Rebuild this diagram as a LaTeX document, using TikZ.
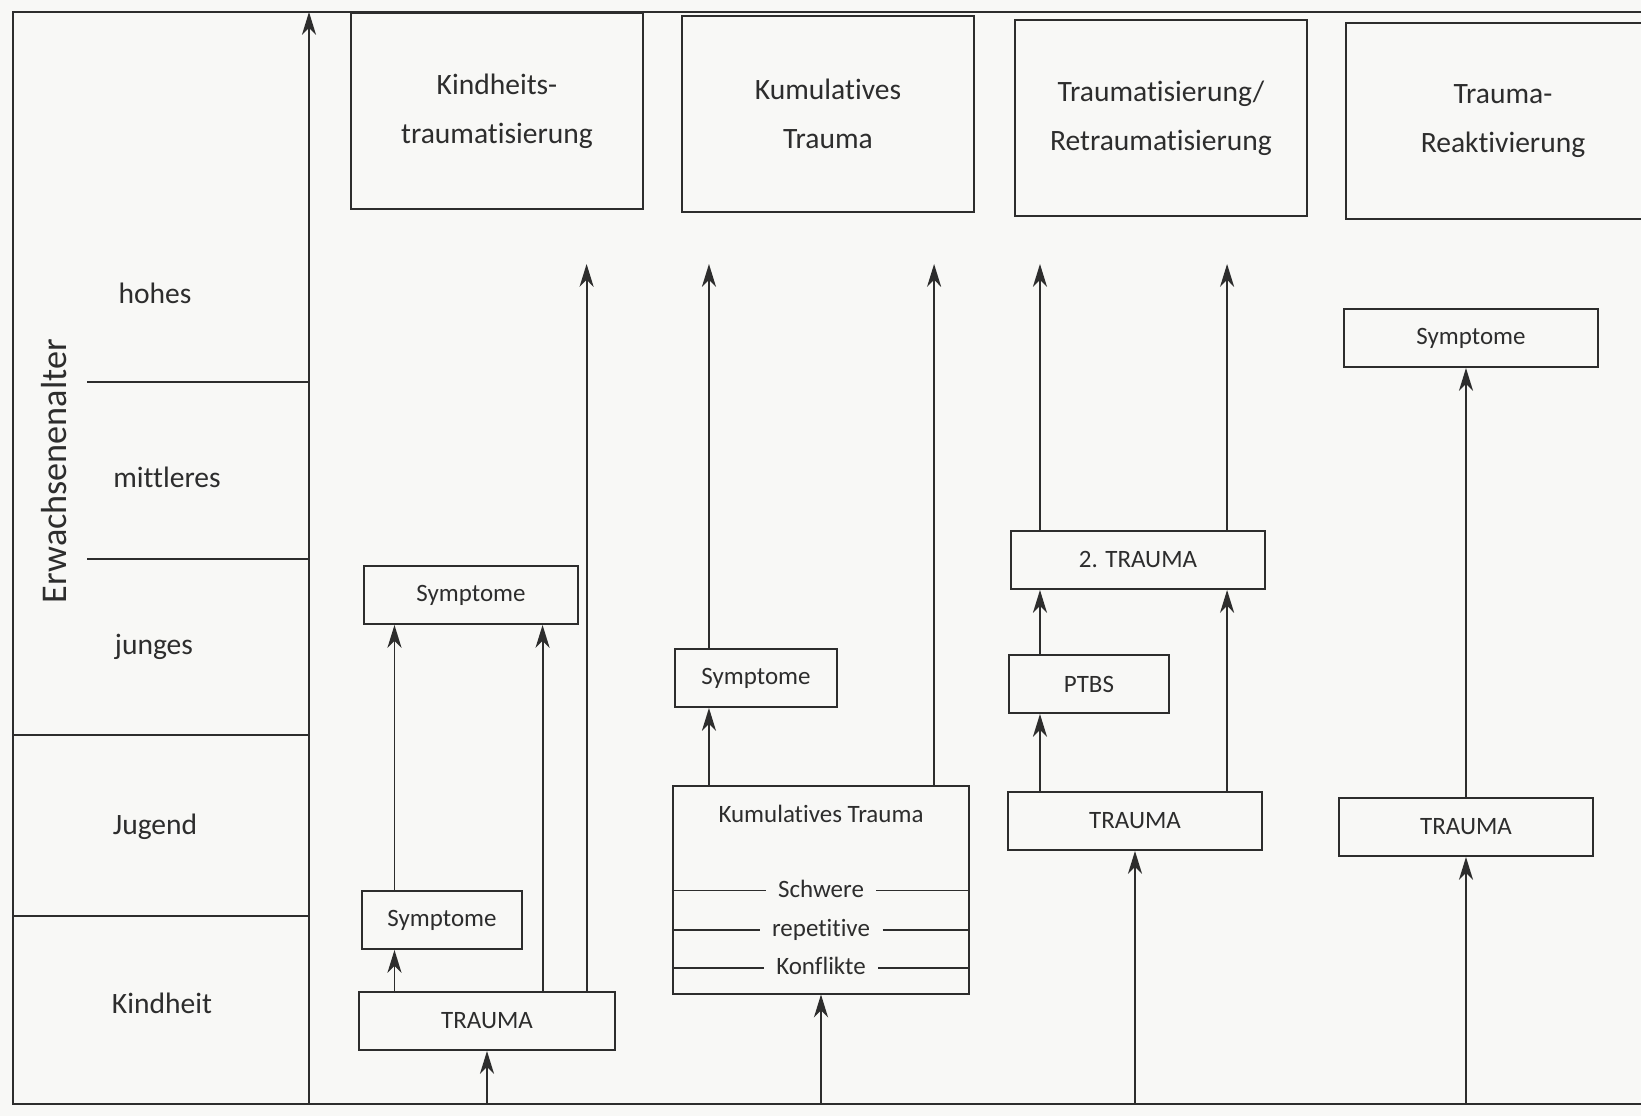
\documentclass[tikz,border=0pt]{standalone}
\usepackage{fontspec}
\setmainfont{Carlito}[Ligatures={NoCommon}]
\usetikzlibrary{arrows.meta, positioning, calc}
\definecolor{inkgray}{RGB}{45,45,45}
\definecolor{papergray}{RGB}{248,248,246}

\begin{document}
\begin{tikzpicture}[
    x=0.01cm, y=-0.01cm,
    line width=0.55pt, color=inkgray,
    head/.style={draw, minimum width=2.92cm, minimum height=1.95cm, align=center, font=\fontsize{8.4}{14}\selectfont},
    box/.style={draw, minimum width=2.54cm, minimum height=0.58cm, inner sep=0pt, font=\fontsize{7.1}{9}\selectfont},
    age/.style={font=\fontsize{8.4}{10}\selectfont},
    rowtext/.style={font=\fontsize{7.1}{9}\selectfont, inner xsep=3.3pt, inner ysep=0pt, text height=4pt, text depth=0pt},
    arrow/.style={-{Stealth[length=6.5pt, width=4pt, inset=2pt]}}
]
    \useasboundingbox (0,0) rectangle (1641,1116);
    \fill[papergray] (0,0) rectangle (1641,1116);

    % Frame and time axis
    \coordinate (base) at (0,1104);
    \coordinate (tips) at (0,264);
    \coordinate (axisbase) at (309,1104);
    \coordinate (axistop) at (309,12);
    \draw (1660,12) -- (13,12) -- (13,1104) -- (1660,1104);
    \draw[arrow] (axisbase) -- (axistop);

    % Age bands
    \draw (87,382) -- (309,382);
    \draw (87,559) -- (309,559);
    \draw (13,735) -- (309,735);
    \draw (13,916) -- (309,916);
    \node[age] (hohes) at (155,293) {hohes};
    \node[age] (mittleres) at (167,477) {mittleres};
    \node[age] (junges) at (154,647) {junges};
    \node[age] (jugend) at (155,827) {Jugend};
    \node[age] (kindheit) at (162,1003) {Kindheit};
    \node[font=\fontsize{10.3}{12}\selectfont, rotate=90] (erwachsen) at (54,471) {Erwachsenenalter};

    % Column headers
    \node[head] (kth) at (497,111) {Kindheits-\\traumatisierung};
    \node[head] (kum) at (828,114) {Kumulatives\\Trauma};
    \node[head] (retr) at (1161,118) {Traumatisierung/\\Retraumatisierung};
    \node[head, minimum width=3.14cm] (reakt) at (1503,121) {Trauma-\\Reaktivierung};

    % Kindheitstraumatisierung
    \node[box, minimum width=2.13cm] (sympA) at (471,595) {Symptome};
    \node[box, minimum width=1.60cm] (sympB) at (442,920) {Symptome};
    \node[box, minimum width=2.55cm] (traumaA) at (487,1021) {TRAUMA};
    \coordinate (k1) at ([xshift=0.36cm]traumaA.north west);
    \coordinate (k2) at ([xshift=1.84cm]traumaA.north west);
    \coordinate (k3) at ([xshift=2.28cm]traumaA.north west);
    \draw[arrow] (traumaA.south |- base) -- (traumaA.south);
    \draw[arrow] (k1) -- (k1 |- sympB.south);
    \draw[arrow] (k1 |- sympB.north) -- (k1 |- sympA.south);
    \draw[arrow] (k2) -- (k2 |- sympA.south);
    \draw[arrow] (k3) -- (k3 |- tips);

    % Kumulatives Trauma
    \node[box, minimum width=1.61cm] (sympC) at (756,678) {Symptome};
    \node[draw, minimum width=2.96cm, minimum height=2.07cm] (kumbox) at (821,890) {};
    \node[rowtext] (kumtitle) at ([yshift=-0.30cm]kumbox.north) {Kumulatives Trauma};
    \node[rowtext] (schwere) at ([yshift=-1.05cm]kumbox.north) {Schwere};
    \node[rowtext] (repet) at ([yshift=-1.44cm]kumbox.north) {repetitive};
    \node[rowtext] (konfl) at ([yshift=-1.82cm]kumbox.north) {Konflikte};
    \foreach \r in {schwere, repet, konfl} {
        \draw (kumbox.west |- \r) -- (\r.west);
        \draw (\r.east) -- (kumbox.east |- \r);
    }
    \coordinate (c1) at ([xshift=0.37cm]kumbox.north west);
    \coordinate (c2) at ([xshift=2.62cm]kumbox.north west);
    \draw[arrow] (kumbox.south |- base) -- (kumbox.south);
    \draw[arrow] (c1) -- (c1 |- sympC.south);
    \draw[arrow] (c1 |- sympC.north) -- (c1 |- tips);
    \draw[arrow] (c2) -- (c2 |- tips);

    % Traumatisierung / Retraumatisierung
    \node[box] (trauma2) at (1138,560) {2. TRAUMA};
    \node[box, minimum width=1.60cm] (ptbs) at (1089,684) {PTBS};
    \node[box] (traumaC) at (1135,821) {TRAUMA};
    \coordinate (r1) at ([xshift=0.33cm]traumaC.north west);
    \coordinate (r2) at ([xshift=2.20cm]traumaC.north west);
    \draw[arrow] (traumaC.south |- base) -- (traumaC.south);
    \draw[arrow] (r1) -- (r1 |- ptbs.south);
    \draw[arrow] (r1 |- ptbs.north) -- (r1 |- trauma2.south);
    \draw[arrow] (r2) -- (r2 |- trauma2.south);
    \draw[arrow] (r1 |- trauma2.north) -- (r1 |- tips);
    \draw[arrow] (r2 |- trauma2.north) -- (r2 |- tips);

    % Trauma-Reaktivierung
    \node[box] (sympD) at (1471,338) {Symptome};
    \node[box] (traumaD) at (1466,827) {TRAUMA};
    \draw[arrow] (traumaD.south |- base) -- (traumaD.south);
    \draw[arrow] (traumaD.north) -- (traumaD.north |- sympD.south);
\end{tikzpicture}
\end{document}
